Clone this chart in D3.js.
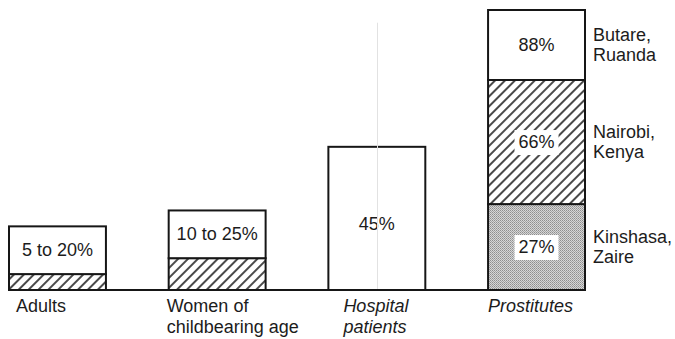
<!doctype html>
<html lang="en">
<head>
    <meta charset="utf-8">
    <title>HIV prevalence, central Africa</title>
    <style>
        body { margin: 0; background: #fff; }
        svg text {
            font-family: "Liberation Sans", Arial, Helvetica, sans-serif;
            font-size: 18px;
            fill: #1c1c1c;
        }
        .bar { stroke: #161616; stroke-width: 2; }
        .baseline { stroke: #161616; stroke-width: 2; }
    </style>
</head>
<body>
<svg id="chart" width="675" height="339"></svg>

<script src="https://d3js.org/d3.v7.min.js"></script>
<script>

    // data
    const categories = ["Adults", "Women of\nchildbearing age", "Hospital\npatients", "Prostitutes"];
    const italicCategory = [false, false, true, true];
    const lowEstimate = [5, 10, null, null];        // hatched part
    const highEstimate = [20, 25, 45, null];        // top of open box
    const rangeLabels = ["5 to 20%", "10 to 25%", "45%", null];
    const cities = ["Kinshasa,\nZaire", "Nairobi,\nKenya", "Butare,\nRuanda"];
    const cityValues = [27, 66, 88];
    const cityLabels = ["27%", "66%", "88%"];

    // layout
    const labelShift = [7, -2, 15, 0];

    const svg = d3.select("#chart");
    const defs = svg.append("defs");

    // hatch ////
    let hatch = defs.append("pattern")
        .attr("id", "hatch")
        .attr("patternUnits", "userSpaceOnUse")
        .attr("width", 7).attr("height", 7)
        .attr("patternTransform", "rotate(45)");
    hatch.append("rect").attr("width", 7).attr("height", 7).attr("fill", "#fff");
    hatch.append("line")
        .attr("x1", 1).attr("y1", 0).attr("x2", 1).attr("y2", 7)
        .attr("stroke", "#2a2a2a").attr("stroke-width", 1.7);

    // stipple
    let dots = defs.append("pattern")
        .attr("id", "dots")
        .attr("patternUnits", "userSpaceOnUse")
        .attr("width", 2).attr("height", 2);
    dots.append("rect").attr("width", 2).attr("height", 2).attr("fill", "#d6d6d6");
    dots.append("rect").attr("width", 1).attr("height", 1).attr("fill", "#8e8e8e");
    dots.append("rect").attr("x", 1).attr("y", 1).attr("width", 1).attr("height", 1).attr("fill", "#a4a4a4");

    const x = d3.scaleBand()
        .domain(categories)
        .range([9, 585])
        .paddingInner(0.393)
        .paddingOuter(0);

    const y = d3.scaleLinear()
        .domain([0, 88])
        .range([290, 10]);

    // build stacked segments
    let segments = [];
    categories.forEach(function (c, i) {
        if (highEstimate[i] == null) return;
        let low = lowEstimate[i] || 0;
        if (low > 0) segments.push({cat: c, from: 0, to: low, fill: "url(#hatch)"});
        segments.push({cat: c, from: low, to: highEstimate[i], fill: "#fff", label: rangeLabels[i]});
    });
    const cityFills = ["url(#dots)", "url(#hatch)", "#fff"];
    cityValues.forEach(function (v, i) {
        segments.push({
            cat: categories[3],
            from: i === 0 ? 0 : cityValues[i - 1],
            to: v,
            fill: cityFills[i],
            label: cityLabels[i],
            city: cities[i],
            knockout: i < 2
        });
    });

    let g = svg.append("g");

    g.selectAll("rect.bar")
        .data(segments).enter()
        .append("rect")
        .attr("class", "bar")
        .attr("x", d => x(d.cat))
        .attr("y", d => y(d.to))
        .attr("width", x.bandwidth())
        .attr("height", d => y(d.from) - y(d.to))
        .attr("fill", d => d.fill);

    // faint scan line running through the hospital bar
    svg.append("line")
        .attr("x1", 377.5).attr("x2", 377.5)
        .attr("y1", y(84)).attr("y2", y(0))
        .attr("stroke", "#e2e2e2").attr("stroke-width", 1);

    svg.append("line")
        .attr("class", "baseline")
        .attr("x1", 8).attr("x2", x(categories[3]) + x.bandwidth() + 1)
        .attr("y1", y(0)).attr("y2", y(0));

    // value labels inside bars
    let labelled = segments.filter(d => d.label);
    let vl = g.selectAll("g.val")
        .data(labelled).enter()
        .append("g")
        .attr("class", "val")
        .attr("transform", d => "translate(" + (x(d.cat) + x.bandwidth() / 2) + "," + ((y(d.from) + y(d.to)) / 2) + ")");

    vl.filter(d => d.knockout)
        .append("rect")
        .attr("x", -22)
        .attr("y", -12)
        .attr("width", 44)
        .attr("height", 25)
        .attr("fill", "#fff");

    vl.append("text")
        .attr("text-anchor", "middle")
        .attr("y", d => d.from === 0 && !d.city ? 12 : 6)
        .text(d => d.label);

    // city labels on the right
    let cl = svg.selectAll("text.city")
        .data(segments.filter(d => d.city)).enter()
        .append("text")
        .attr("class", "city")
        .attr("x", x(categories[3]) + x.bandwidth() + 8)
        .attr("y", d => (y(d.from) + y(d.to)) / 2 - 4);
    cl.selectAll("tspan")
        .data(d => d.city.split("\n")).enter()
        .append("tspan")
        .attr("x", x(categories[3]) + x.bandwidth() + 8)
        .attr("dy", (d, i) => i === 0 ? 0 : 20)
        .text(d => d);

    // category labels under the baseline
    let cat = svg.selectAll("text.cat")
        .data(categories).enter()
        .append("text")
        .attr("class", "cat")
        .attr("y", y(0) + 22)
        .attr("font-style", (d, i) => italicCategory[i] ? "italic" : "normal");
    cat.each(function (d, i) {
        let t = d3.select(this);
        d.split("\n").forEach(function (line, j) {
            t.append("tspan")
                .attr("x", x(d) + labelShift[i])
                .attr("dy", j === 0 ? 0 : 21)
                .text(line);
        });
    });

</script>
</body>
</html>
